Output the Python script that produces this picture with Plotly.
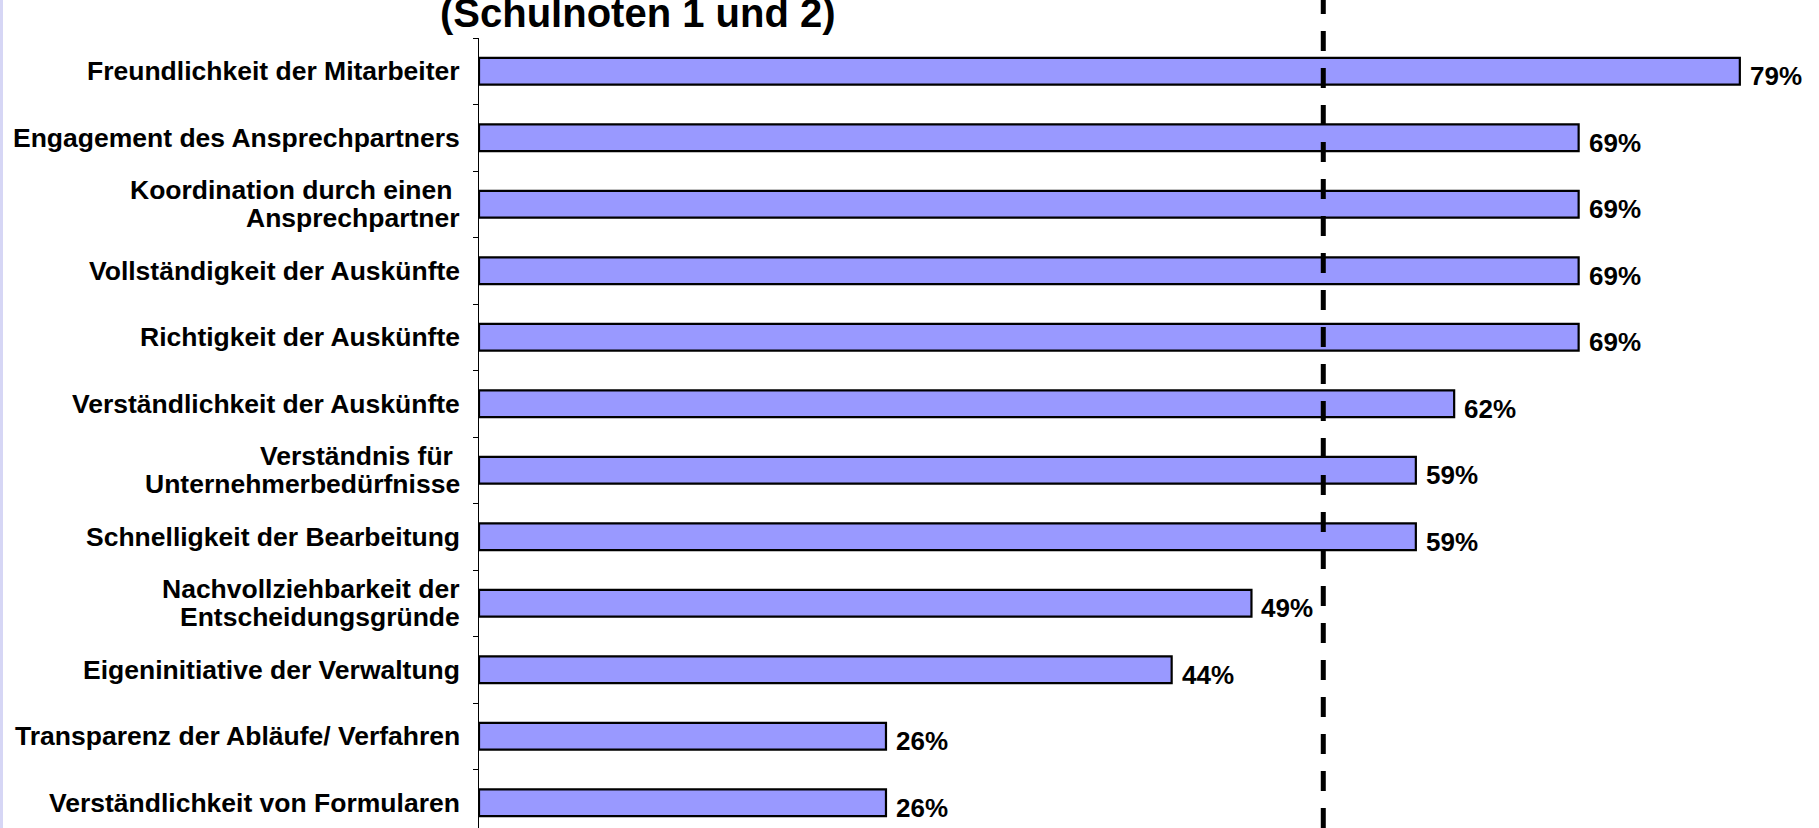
import plotly.graph_objects as go

categories = [
    "Freundlichkeit der Mitarbeiter",
    "Engagement des Ansprechpartners",
    "Koordination durch einen\u00a0<br>Ansprechpartner",
    "Vollständigkeit der Auskünfte",
    "Richtigkeit der Auskünfte",
    "Verständlichkeit der Auskünfte",
    "Verständnis für\u00a0<br>Unternehmerbedürfnisse",
    "Schnelligkeit der Bearbeitung",
    "Nachvollziehbarkeit der<br>Entscheidungsgründe",
    "Eigeninitiative der Verwaltung",
    "Transparenz der Abläufe/ Verfahren",
    "Verständlichkeit von Formularen",
]
values = [79.0, 68.9, 68.9, 68.9, 68.9, 61.1, 58.7, 58.7, 48.4, 43.4, 25.5, 25.5]
value_labels = ["79%", "69%", "69%", "69%", "69%", "62%", "59%", "59%", "49%", "44%", "26%", "26%"]
reference_line = 52.9
title_text = "(Schulnoten 1 und 2)"

W, H = 1819, 828
ML, MT, MR, MB = 479, 38, 0, 0
plot_w = W - ML - MR
plot_h = H - MT - MB
LINE_SP = 28

FONT = "Liberation Sans, Arial, sans-serif"

fig = go.Figure()
fig.add_trace(go.Bar(
    x=values,
    y=categories,
    orientation="h",
    width=0.4,
    marker=dict(color="#9999ff", line=dict(color="black", width=2.2)),
    hoverinfo="skip",
))

# category labels (one annotation per line for tight line spacing)
for c in categories:
    lines = c.split("<br>")
    n = len(lines)
    for i, ln in enumerate(lines):
        fig.add_annotation(
            x=0, y=c, xref="paper", yref="y", text="<b>" + ln + "</b>",
            showarrow=False, xanchor="right", yanchor="middle",
            xshift=-17, yshift=((n - 1) / 2 - i) * LINE_SP,
            font=dict(family=FONT, size=26.5, color="black"),
        )

# value labels
for v, c, lab in zip(values, categories, value_labels):
    fig.add_annotation(
        x=v, y=c, xref="x", yref="y", text="<b>" + lab + "</b>",
        showarrow=False, xanchor="left", yanchor="middle",
        xshift=8, yshift=-5,
        font=dict(family=FONT, size=26, color="black"),
    )

# title (second line, top cut off by the frame)
fig.add_annotation(
    x=(638 - ML) / plot_w, y=1 + (MT - 37) / plot_h, xref="paper", yref="paper",
    text="<b>" + title_text + "</b>", showarrow=False,
    xanchor="center", yanchor="bottom",
    font=dict(family=FONT, size=40, color="black"),
)

# dashed reference line
fig.add_shape(
    type="line", xref="x", yref="paper",
    x0=reference_line, x1=reference_line, y0=0, y1=1 + MT / plot_h,
    line=dict(color="black", width=5, dash="20px,17px"),
)

# light lavender strip on the left edge
fig.add_shape(
    type="rect", xref="paper", yref="paper",
    x0=-ML / plot_w, x1=(-ML + 3) / plot_w, y0=-0.01, y1=1 + MT / plot_h,
    fillcolor="#d6d6f5", line=dict(width=0), layer="above",
)

fig.update_layout(
    width=W, height=H,
    margin=dict(l=ML, r=MR, t=MT, b=MB, pad=0),
    paper_bgcolor="white", plot_bgcolor="white",
    showlegend=False,
    font=dict(family=FONT, color="black"),
    xaxis=dict(visible=False, range=[0, plot_w / 15.96], fixedrange=True),
    yaxis=dict(
        type="category",
        range=[-0.5 + plot_h / 66.5, -0.5],
        showline=True, linecolor="black", linewidth=1,
        ticks="outside", tickson="boundaries", ticklen=5, tickcolor="black", tickwidth=1,
        showgrid=False, zeroline=False,
        showticklabels=False,
        fixedrange=True,
    ),
)

fig.write_html(
    "out.html",
    config={"displayModeBar": False, "staticPlot": True},
    post_script="document.body.style.margin='0';document.body.style.overflow='hidden';",
)
